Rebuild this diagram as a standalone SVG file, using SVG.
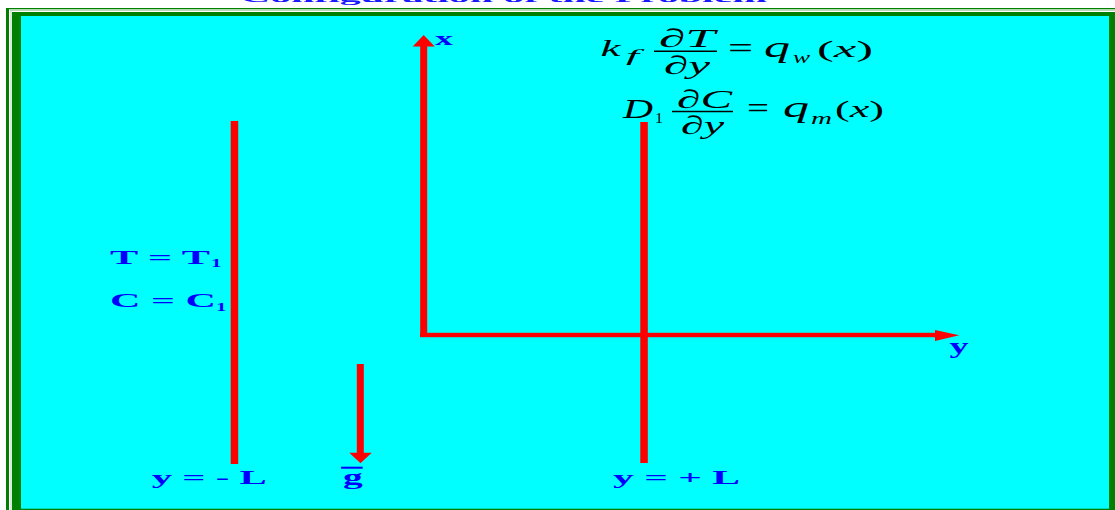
<svg xmlns="http://www.w3.org/2000/svg" width="1115" height="510" viewBox="0 0 1115 510">
<style>
.lbl{font-family:"Liberation Serif","Times New Roman",serif;font-weight:bold;fill:#0000ff}
.eq{font-family:"Liberation Serif","Times New Roman",serif;font-style:italic;fill:#000}
.equp{font-family:"Liberation Serif","Times New Roman",serif;fill:#000}
.red{fill:#ff0000}
</style>
<rect x="0" y="0" width="1115" height="510" fill="#ffffff"/>
<text id="title" transform="translate(0,2) scale(1,0.5)" x="240" y="0" font-family="Liberation Serif, serif" font-weight="bold" font-size="28" fill="#1a1aff" textLength="527" lengthAdjust="spacingAndGlyphs">Configuration of the Problem</text>
<g id="frame">
<rect x="6" y="8" width="1109" height="1.3" fill="#008000"/>
<rect x="6" y="8" width="3" height="502" fill="#008000"/>
<rect x="10" y="10" width="1105" height="1" fill="#b8d8b8"/>
<rect x="10.5" y="10" width="1" height="500" fill="#b8d8b8"/>
<rect x="12" y="12" width="1103" height="498" fill="#008000"/>
<rect x="21" y="16" width="1088" height="492.7" fill="#00ffff"/>
</g>
<g id="left-plate"><rect class="red" x="230.7" y="121" width="7.5" height="343"/></g>
<g id="right-plate"><rect class="red" x="640.3" y="122" width="7.5" height="341"/></g>
<g id="connectors">
<rect class="red" x="420" y="332.8" width="516" height="4.4"/>
<polygon class="red" points="935,330 959.3,335.3 935,341"/>
<rect class="red" x="420.2" y="45" width="7" height="291"/>
<polygon class="red" points="412.7,46.5 434.7,46.5 423.7,35"/>
<rect class="red" x="356.8" y="364" width="7" height="90"/>
<polygon class="red" points="349.3,452.7 371.7,452.7 360.5,463.3"/>
</g>
<g id="axis-x-label"><text class="lbl" x="435" y="45" font-size="19" textLength="18" lengthAdjust="spacingAndGlyphs">x</text></g>
<g id="axis-y-label"><text class="lbl" x="949.5" y="352.8" font-size="20" textLength="19" lengthAdjust="spacingAndGlyphs">y</text></g>
<g id="label-T">
<text class="lbl" x="110" y="263.5" font-size="18" textLength="100" lengthAdjust="spacingAndGlyphs">T = T</text>
<text class="lbl" x="211" y="266.5" font-size="13" textLength="10.5" lengthAdjust="spacingAndGlyphs">1</text>
</g>
<g id="label-C">
<text class="lbl" x="110" y="307.3" font-size="18.5" textLength="106" lengthAdjust="spacingAndGlyphs">C = C</text>
<text class="lbl" x="216" y="310.5" font-size="13" textLength="10.5" lengthAdjust="spacingAndGlyphs">1</text>
</g>
<g id="label-left"><text class="lbl" x="151.7" y="484" font-size="18.5" textLength="115" lengthAdjust="spacingAndGlyphs">y = - L</text></g>
<g id="label-right"><text class="lbl" x="613" y="484" font-size="18.5" textLength="127" lengthAdjust="spacingAndGlyphs">y = + L</text></g>
<g id="label-g">
<line x1="341" y1="467.7" x2="362.7" y2="467.7" stroke="#0000ff" stroke-width="2"/>
<text class="lbl" x="343" y="484" font-size="20" textLength="19.7" lengthAdjust="spacingAndGlyphs">g</text>
</g>
<g id="equation-1">
<text class="eq" x="600.5" y="55.5" font-size="24" textLength="20" lengthAdjust="spacingAndGlyphs">k</text>
<text class="eq" x="626" y="61" font-size="16" textLength="13" lengthAdjust="spacingAndGlyphs">f</text>
<text class="eq" x="659" y="47" font-size="26" textLength="56" lengthAdjust="spacingAndGlyphs">∂T</text>
<line x1="654" y1="51.3" x2="717" y2="51.3" stroke="#000" stroke-width="1.5"/>
<text class="eq" x="664" y="73.5" font-size="26" textLength="46" lengthAdjust="spacingAndGlyphs">∂y</text>
<text class="equp" x="728" y="57.5" font-size="30" textLength="25" lengthAdjust="spacingAndGlyphs">=</text>
<text class="eq" x="764" y="56.5" font-size="30" textLength="26" lengthAdjust="spacingAndGlyphs">q</text>
<text class="eq" x="793" y="63" font-size="16" textLength="17" lengthAdjust="spacingAndGlyphs">w</text>
<text class="equp" x="817" y="56.5" font-size="23" textLength="56" lengthAdjust="spacingAndGlyphs">(<tspan font-style="italic">x</tspan>)</text>
</g>
<g id="equation-2">
<text class="eq" x="623" y="118" font-size="27" textLength="30" lengthAdjust="spacingAndGlyphs">D</text>
<text class="equp" x="655" y="123" font-size="15" textLength="8" lengthAdjust="spacingAndGlyphs">1</text>
<text class="eq" x="677" y="107.5" font-size="26" textLength="55" lengthAdjust="spacingAndGlyphs">∂C</text>
<line x1="672" y1="111.5" x2="733" y2="111.5" stroke="#000" stroke-width="1.5"/>
<text class="eq" x="681" y="134" font-size="26" textLength="43" lengthAdjust="spacingAndGlyphs">∂y</text>
<text class="equp" x="747" y="118" font-size="30" textLength="22" lengthAdjust="spacingAndGlyphs">=</text>
<text class="eq" x="783" y="117" font-size="30" textLength="26" lengthAdjust="spacingAndGlyphs">q</text>
<text class="eq" x="811" y="123.5" font-size="16" textLength="21" lengthAdjust="spacingAndGlyphs">m</text>
<text class="equp" x="835" y="117" font-size="23" textLength="49" lengthAdjust="spacingAndGlyphs">(<tspan font-style="italic">x</tspan>)</text>
</g>
</svg>
